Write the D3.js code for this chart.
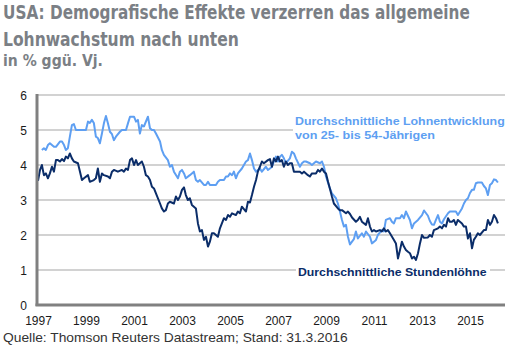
<!DOCTYPE html>
<html><head><meta charset="utf-8">
<script src="https://cdn.jsdelivr.net/npm/d3@7"></script>
<style>html,body{margin:0;padding:0;background:#fff;}svg{display:block;}</style>
</head><body>
<svg id="c" width="511" height="355"></svg>
<script>
const titleLines = ["USA: Demografische Effekte verzerren das allgemeine", "Lohnwachstum nach unten"];
const subtitle = "in % ggü. Vj.";
const source = "Quelle: Thomson Reuters Datastream; Stand: 31.3.2016";
const yTicks = [0, 1, 2, 3, 4, 5, 6];
const xTickYears = [1997, 1999, 2001, 2003, 2005, 2007, 2009, 2011, 2013, 2015];
const lightLabel = ["Durchschnittliche Lohnentwicklung", "von 25- bis 54-Jährigen"];
const darkLabel = "Durchschnittliche Stundenlöhne";

const lightDates = ["1997-03","1997-04","1997-05","1997-06","1997-07","1997-09","1997-10","1997-12","1998-01","1998-02","1998-03","1998-04","1998-05","1998-06","1998-07","1998-08","1999-01","1999-02","1999-03","1999-04","1999-05","1999-06","1999-07","1999-08","1999-09","1999-10","1999-11","1999-12","2000-01","2000-02","2000-03","2000-04","2000-06","2000-07","2000-09","2000-10","2000-11","2001-01","2001-02","2001-03","2001-04","2001-05","2001-06","2001-08","2001-09","2001-10","2001-11","2001-12","2002-02","2002-03","2002-04","2002-06","2002-07","2002-08","2002-09","2002-11","2002-12","2003-01","2003-02","2003-03","2003-05","2003-06","2003-07","2003-08","2003-09","2003-10","2003-12","2004-01","2004-02","2004-03","2004-06","2004-07","2004-08","2004-10","2004-11","2004-12","2005-01","2005-02","2005-03","2005-04","2005-05","2005-07","2005-09","2005-10","2005-11","2005-12","2006-01","2006-02","2006-04","2006-05","2006-07","2006-08","2006-09","2006-10","2006-11","2006-12","2007-01","2007-02","2007-03","2007-04","2007-05","2007-07","2007-08","2007-09","2007-10","2007-12","2008-01","2008-02","2008-03","2008-05","2008-06","2008-07","2008-08","2008-10","2008-11","2008-12","2009-01","2009-03","2009-04","2009-06","2009-07","2009-08","2009-09","2009-10","2009-11","2009-12","2010-01","2010-03","2010-04","2010-05","2010-07","2010-08","2010-09","2010-11","2010-12","2011-02","2011-03","2011-05","2011-06","2011-07","2011-09","2011-10","2011-11","2011-12","2012-02","2012-03","2012-04","2012-05","2012-07","2012-08","2012-09","2012-11","2013-01","2013-02","2013-04","2013-05","2013-06","2013-07","2013-08","2013-09","2013-10","2013-11","2013-12","2014-02","2014-03","2014-05","2014-06","2014-07","2014-09","2014-10","2014-11","2014-12","2015-01","2015-02","2015-03","2015-04","2015-05","2015-07","2015-08","2015-09","2015-10","2015-11","2015-12","2016-01","2016-02","2016-03"];
const lightValues = [4.43,4.48,4.43,4.57,4.62,4.52,4.52,4.67,4.67,4.57,4.43,4.48,4.81,5.14,5.17,5.0,5.0,5.24,5.2,5.29,5.2,4.81,4.77,4.62,4.9,5.19,5.4,5.19,4.95,4.88,4.71,4.81,4.95,5.0,5.0,5.19,5.38,5.38,5.24,5.29,4.9,5.14,5.1,5.38,5.05,5.0,5.0,4.9,4.67,4.43,4.29,4.14,3.95,4.0,3.81,3.62,3.81,3.86,3.76,3.62,3.71,3.76,3.81,3.57,3.52,3.57,3.43,3.43,3.52,3.43,3.43,3.52,3.57,3.57,3.67,3.67,3.76,3.71,3.81,3.62,3.76,3.9,4.1,4.14,4.33,4.14,3.9,3.81,3.9,3.81,3.95,3.86,3.9,3.95,4.1,4.24,4.1,4.24,4.29,4.19,4.05,4.19,4.38,4.33,4.19,3.95,4.05,4.1,4.1,4.05,4.0,4.05,4.1,4.05,4.1,3.95,3.67,3.33,3.19,3.05,2.9,2.67,2.43,2.24,2.29,1.95,1.73,1.88,2.1,1.9,2.05,1.95,2.1,1.95,1.76,1.86,2.0,2.14,2.1,2.43,2.48,2.38,2.33,2.48,2.48,2.57,2.48,2.67,2.43,2.19,2.33,2.43,2.57,2.7,2.55,2.4,2.3,2.29,2.43,2.57,2.38,2.33,2.45,2.62,2.67,2.67,2.67,2.57,2.76,2.9,3.0,3.05,3.2,3.29,3.29,3.48,3.5,3.5,3.4,3.33,3.14,3.43,3.48,3.59,3.57,3.5];

const darkDates = ["1997-01","1997-02","1997-03","1997-04","1997-05","1997-06","1997-07","1997-08","1997-09","1997-10","1997-11","1997-12","1998-01","1998-02","1998-03","1998-04","1998-05","1998-06","1998-07","1998-09","1998-11","1998-12","1999-02","1999-03","1999-05","1999-06","1999-07","1999-08","1999-09","1999-10","1999-12","2000-01","2000-02","2000-03","2000-05","2000-07","2000-08","2000-09","2000-10","2000-11","2000-12","2001-01","2001-02","2001-03","2001-05","2001-06","2001-07","2001-08","2001-09","2001-10","2001-11","2001-12","2002-02","2002-03","2002-04","2002-05","2002-06","2002-07","2002-09","2002-10","2002-11","2002-12","2003-01","2003-02","2003-03","2003-04","2003-05","2003-06","2003-08","2003-09","2003-10","2003-11","2003-12","2004-01","2004-02","2004-03","2004-04","2004-05","2004-06","2004-07","2004-08","2004-10","2004-11","2004-12","2005-01","2005-02","2005-04","2005-05","2005-06","2005-07","2005-09","2005-10","2005-11","2005-12","2006-01","2006-02","2006-03","2006-04","2006-05","2006-06","2006-08","2006-09","2006-10","2006-11","2006-12","2007-01","2007-02","2007-03","2007-04","2007-05","2007-06","2007-07","2007-08","2007-09","2007-11","2007-12","2008-01","2008-02","2008-04","2008-05","2008-06","2008-08","2008-09","2008-10","2008-11","2008-12","2009-01","2009-02","2009-03","2009-04","2009-05","2009-07","2009-08","2009-09","2009-11","2009-12","2010-01","2010-02","2010-04","2010-05","2010-06","2010-07","2010-09","2010-10","2010-11","2010-12","2011-01","2011-02","2011-04","2011-05","2011-06","2011-07","2011-08","2011-09","2011-11","2011-12","2012-01","2012-02","2012-03","2012-04","2012-05","2012-06","2012-07","2012-08","2012-09","2012-10","2012-11","2012-12","2013-01","2013-02","2013-04","2013-05","2013-06","2013-07","2013-09","2013-10","2013-11","2013-12","2014-01","2014-02","2014-03","2014-04","2014-05","2014-06","2014-07","2014-09","2014-10","2014-11","2014-12","2015-01","2015-02","2015-03","2015-04","2015-05","2015-06","2015-08","2015-09","2015-10","2015-11","2015-12","2016-01","2016-02","2016-03"];
const darkValues = [3.55,3.86,4.0,3.71,3.76,3.62,3.76,3.95,3.81,4.14,4.14,4.1,4.17,4.11,4.24,4.19,4.33,4.19,4.1,4.05,3.57,3.62,3.71,3.52,3.57,3.62,3.9,3.52,3.76,3.71,3.67,3.62,3.81,3.86,3.81,3.86,3.81,3.9,3.86,4.14,4.19,4.0,4.14,4.0,4.1,3.95,3.71,3.67,3.57,3.38,3.33,3.19,2.9,2.76,2.67,2.71,2.9,2.95,2.9,3.1,3.0,3.1,3.29,3.36,3.14,3.0,3.05,2.86,2.76,2.33,2.1,2.14,1.86,1.95,1.67,1.81,2.05,2.05,2.0,1.95,2.19,2.48,2.43,2.57,2.52,2.62,2.57,2.67,2.62,2.81,2.67,2.95,2.93,3.14,3.38,3.57,3.81,3.95,4.1,4.05,4.14,4.17,3.95,4.19,4.1,4.24,4.1,4.14,3.95,4.1,4.0,4.05,4.05,3.81,3.81,3.81,3.76,3.81,3.71,3.67,3.76,3.76,3.86,3.81,3.9,3.81,3.76,3.52,3.33,3.1,2.9,2.76,2.71,2.71,2.62,2.67,2.6,2.5,2.38,2.43,2.52,2.38,2.29,2.48,2.24,2.1,2.14,2.1,2.14,2.1,2.19,2.1,2.14,2.05,1.86,1.76,1.33,1.57,1.81,1.67,1.57,1.52,1.48,1.33,1.38,1.29,1.48,1.76,2.0,1.92,1.93,2.0,1.95,2.14,2.19,2.24,2.19,2.29,2.24,2.48,2.38,2.38,2.43,2.29,2.43,2.33,2.24,2.24,1.9,2.05,1.62,1.86,1.95,2.05,2.0,2.14,2.14,2.43,2.29,2.38,2.57,2.48,2.33];

const svg = d3.select("#c");
const parse = d3.timeParse("%Y-%m");
const mLeft = 38, mRight = 505, mTop = 95, mBottom = 305;
const x = d3.scaleTime().domain([new Date(1997,0,1), new Date(2016,5,17)]).range([mLeft, mRight]);
const y = d3.scaleLinear().domain([0, 6]).range([mBottom, mTop]);

const titleFont = "'Liberation Sans Narrow','DejaVu Sans Condensed','Liberation Sans',Arial,sans-serif";
const bodyFont = "'Liberation Sans',Arial,sans-serif";

// fitted text: scale horizontally to a target width
function fitText(txt, px, py, size, weight, color, family, targetW) {
  const t = svg.append("text").attr("x", 0).attr("y", 0).attr("font-family", family)
    .attr("font-weight", weight).attr("font-size", size).attr("fill", color).text(txt);
  const w = t.node().getComputedTextLength();
  const sx = w > 0 ? targetW / w : 1;
  t.attr("transform", `translate(${px},${py}) scale(${sx},1)`);
  return t;
}

// Title
const tcol = "#7b7f85";
fitText(titleLines[0], 3, 19, 19, "bold", tcol, titleFont, 467);
fitText(titleLines[1], 3, 46, 19, "bold", tcol, titleFont, 236);
fitText(subtitle, 3, 66, 15, "bold", tcol, titleFont, 100);

// Gridlines
svg.append("g").selectAll("line").data(yTicks.filter(d => d > 0)).join("line")
  .attr("x1", mLeft).attr("x2", mRight).attr("y1", d => y(d)).attr("y2", d => y(d))
  .attr("stroke", "#a6a6a6").attr("stroke-width", 1.2);

// Y axis labels
const yAxis = d3.axisLeft(y).tickValues(yTicks).tickSize(0).tickPadding(0).tickFormat(d3.format("d"));
const ya = svg.append("g").attr("transform", `translate(${mLeft - 11},0)`).call(yAxis);
ya.select(".domain").remove();
ya.selectAll("text").attr("font-family", bodyFont).attr("font-size", 12).attr("fill", "#1a1a1a").attr("dy", "0.35em");

// X axis labels
const xAxis = d3.axisBottom(x).tickValues(xTickYears.map(yy => new Date(yy, 0, 1))).tickSize(0).tickPadding(0).tickFormat(d3.timeFormat("%Y"));
const xa = svg.append("g").attr("transform", `translate(0,${mBottom + 13})`).call(xAxis);
xa.select(".domain").remove();
xa.selectAll("text").attr("font-family", bodyFont).attr("font-size", 12).attr("fill", "#1a1a1a").attr("dy", "0.6em");

// Lines
const line = d3.line().x(d => x(d.date)).y(d => y(d.value));
const lightData = lightDates.map((d, i) => ({date: parse(d), value: lightValues[i]}));
const darkData = darkDates.map((d, i) => ({date: parse(d), value: darkValues[i]}));
svg.append("path").datum(lightData).attr("d", line).attr("fill", "none").attr("stroke", "#5e9ff2").attr("stroke-width", 2).attr("stroke-linejoin", "round");
svg.append("path").datum(darkData).attr("d", line).attr("fill", "none").attr("stroke", "#0b2d69").attr("stroke-width", 2).attr("stroke-linejoin", "round");

// Axes frame (left & bottom thick gray)
svg.append("line").attr("x1", mLeft - 1).attr("x2", mLeft - 1).attr("y1", mTop - 1).attr("y2", mBottom + 1).attr("stroke", "#808080").attr("stroke-width", 3);
svg.append("line").attr("x1", mLeft - 2.5).attr("x2", mRight).attr("y1", mBottom).attr("y2", mBottom).attr("stroke", "#808080").attr("stroke-width", 3);

// Series labels with white backgrounds
svg.append("rect").attr("x", 293).attr("y", 113).attr("width", 216).attr("height", 29).attr("fill", "#fff");
fitText(lightLabel[0], 295, 125, 11.5, "bold", "#5e9ff2", bodyFont, 210);
fitText(lightLabel[1], 295, 139, 11.5, "bold", "#5e9ff2", bodyFont, 140);

svg.append("rect").attr("x", 296).attr("y", 264).attr("width", 194).attr("height", 16).attr("fill", "#fff");
fitText(darkLabel, 298, 276, 11.5, "bold", "#0b2d69", bodyFont, 189);

// Source
fitText(source, 3, 342, 12, "normal", "#333", bodyFont, 345);
</script>
</body></html>
